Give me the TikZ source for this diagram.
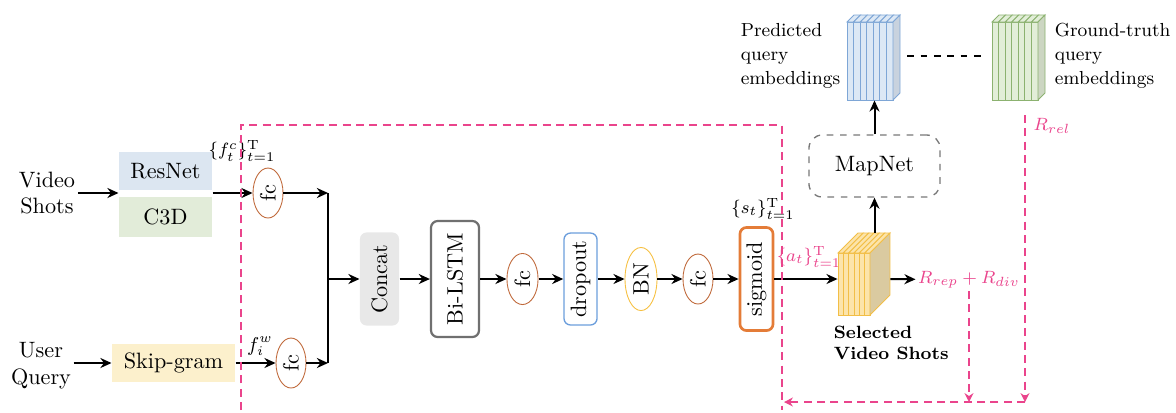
\documentclass[tikz,border=0pt]{standalone}
\usepackage{graphicx}
\usetikzlibrary{arrows.meta,shapes.geometric}

\definecolor{resblue}{RGB}{220,230,241}
\definecolor{c3dgreen}{RGB}{226,236,217}
\definecolor{skipyellow}{RGB}{252,240,204}
\definecolor{catgray}{RGB}{232,232,232}
\definecolor{lstmgray}{RGB}{112,112,112}
\definecolor{dropblue}{RGB}{108,158,220}
\definecolor{bnyellow}{RGB}{246,192,66}
\definecolor{fcbrown}{RGB}{192,106,60}
\definecolor{sigorange}{RGB}{228,124,56}
\definecolor{mapgray}{RGB}{120,120,120}
\definecolor{rwpink}{RGB}{234,68,140}
\definecolor{predfront}{RGB}{220,232,245}
\definecolor{prededge}{RGB}{126,166,214}
\definecolor{predside}{RGB}{200,210,222}
\definecolor{gtfront}{RGB}{226,238,216}
\definecolor{gtedge}{RGB}{140,178,112}
\definecolor{gtside}{RGB}{204,214,194}
\definecolor{selfront}{RGB}{252,228,170}
\definecolor{seledge}{RGB}{242,190,70}
\definecolor{selside}{RGB}{218,202,160}

% stack of slabs: x, y (top of front), n, slab width, height, depth, front, edge, side
\newcommand{\slabstack}[9]{%
  \foreach \i in {1,...,#3}{%
    \pgfmathsetmacro{\xa}{#1+(\i-1)*#4}
    \filldraw[fill=#7, draw=#8, line width=0.4pt] (\xa,#2) rectangle ++(#4,#5);
    \filldraw[fill=#7, draw=#8, line width=0.4pt] (\xa,#2) -- ++(#6,-#6) -- ++(#4,0) -- ++(-#6,#6) -- cycle;
  }
  \pgfmathsetmacro{\xb}{#1+#3*#4}
  \filldraw[fill=#9, draw=#8, line width=0.4pt] (\xb,#2) -- ++(#6,-#6) -- ++(0,#5) -- ++(-#6,#6) -- cycle;
}

\begin{document}
\begin{tikzpicture}[x=0.45pt, y=-0.45pt, >={Stealth[length=5pt,width=4.5pt]}]
    \tikzset{%
      feat/.style={minimum width=41.9pt, minimum height=17.1pt, inner sep=0pt},
      fcell/.style={ellipse, draw=fcbrown, minimum width=13.5pt, minimum height=22.5pt, inner sep=0pt},
      layer/.style={rounded corners=3pt, inner sep=0pt},
      flow/.style={->, line width=0.9pt},
      reward/.style={rwpink, line width=0.6pt, dash pattern=on 3.6pt off 2.4pt, >={Stealth[length=4pt,width=4pt]}},
      rwtext/.style={text=rwpink, inner sep=1pt},
      lbl/.style={font=\fontsize{8.5}{10.8}\selectfont, align=left, anchor=west},
      hidden/.style={inner sep=0pt}
      }
    \useasboundingbox (0,0) rectangle (1176,412);

    \node (vs) [align=center, inner sep=1pt] at (47,193) {Video\\Shots};
    \node (res) [feat, fill=resblue] at (165.5,171) {ResNet};
    \node (c3d) [feat, fill=c3dgreen, minimum height=17.6pt] at (165.5,217) {C3D};
    \node (uq) [align=center, inner sep=1pt] at (41,366) {User\\Query};
    \node (sg) [feat, fill=skipyellow, minimum width=55.4pt] at (173.5,363) {Skip-gram};

    \node (fcv) [fcell] at (268,193) {\rotatebox{90}{fc}};
    \node (fcq) [fcell] at (291,363) {\rotatebox{90}{fc}};
    \node (fclbl) [font=\footnotesize] at (242,151) {$\{f_t^c\}_{t=1}^{\mathrm{T}}$};
    \node (fwlbl) [font=\small] at (260,346) {$f_i^w$};
    \coordinate (jv) at (328,193);
    \coordinate (jq) at (328,363);

    \node (cat) [layer, fill=catgray, minimum width=17.6pt, minimum height=41.9pt] at (379.5,279) {\rotatebox{90}{Concat}};
    \node (lstm) [layer, draw=lstmgray, line width=1pt, minimum width=21.6pt, minimum height=52.2pt] at (455,279) {\rotatebox{90}{Bi-LSTM}};
    \node (fca) [fcell, minimum width=14pt, minimum height=23pt] at (522.5,279) {\rotatebox{90}{fc}};
    \node (drop) [layer, draw=dropblue, line width=0.6pt, minimum width=14.9pt, minimum height=41.4pt] at (580.5,279) {\rotatebox{90}{dropout}};
    \node (bn) [fcell, draw=bnyellow, minimum width=14.4pt, minimum height=28.4pt] at (641,279) {\rotatebox{90}{BN}};
    \node (fcb) [fcell] at (698,279) {\rotatebox{90}{fc}};
    \node (sig) [layer, draw=sigorange, line width=1.2pt, minimum width=14.9pt, minimum height=46.4pt] at (756.5,279) {\rotatebox{90}{sigmoid}};
    \node (slbl) [font=\footnotesize] at (763,209) {$\{s_t\}_{t=1}^{\mathrm{T}}$};
    \node (albl) [rwtext, font=\footnotesize] at (809,257) {$\{a_t\}_{t=1}^{\mathrm{T}}$};

    % selected shots and query embeddings
    \slabstack{838}{253}{6}{5.33}{62}{20}{selfront}{seledge}{selside}
    \node (sel) [hidden, minimum width=23.4pt, minimum height=36.9pt] at (864,274) {};
    \node (sellbl) [lbl, font=\footnotesize\bfseries] at (826,343) {Selected\\Video Shots};
    \node (rr) [rwtext, font=\footnotesize] at (969,280) {$R_{rep}+R_{div}$};
    \node (map) [draw=mapgray, dashed, line width=0.6pt, rounded corners=6pt, minimum width=59pt, minimum height=27.9pt] at (874.5,166) {MapNet};

    \slabstack{847}{22}{7}{6.57}{78}{7}{predfront}{prededge}{predside}
    \slabstack{992}{22}{7}{6.57}{78}{7}{gtfront}{gtedge}{gtside}
    \node (pred) [hidden, minimum width=23.9pt, minimum height=39.6pt] at (873.5,56) {};
    \node (gt) [hidden, minimum width=23.9pt, minimum height=39.6pt] at (1018.5,56) {};
    \node (predlbl) [lbl] at (733,56) {Predicted\\query\\embeddings};
    \node (gtlbl) [lbl] at (1047,56) {Ground-truth\\query\\embeddings};
    \node (rrel) [rwtext, font=\footnotesize] at (1052,126) {$R_{rel}$};

    \draw[flow] (vs.east) -- (vs.east -| res.west);
    \draw[flow] (fcv -| res.east) -- (fcv);
    \draw[flow] (uq.east |- sg) -- (sg);
    \draw[flow] (sg) -- (fcq);
    \draw[flow] (fcv) -- (jv);
    \draw[flow] (fcq) -- (jq);
    \draw[line width=0.9pt] (jv) -- (jq);
    \draw[flow] (jv |- cat) -- (cat);
    \draw[flow] (cat) -- (lstm);
    \draw[flow] (lstm) -- (fca);
    \draw[flow] (fca) -- (drop);
    \draw[flow] (drop) -- (bn);
    \draw[flow] (bn) -- (fcb);
    \draw[flow] (fcb) -- (sig);
    \draw[flow] (sig) -- (sig -| sel.west);
    \draw[flow] (sig -| sel.east) -- (rr);
    \draw[flow] (sel.north -| map) -- (map);
    \draw[flow] (map) -- (map |- pred.south);
    \draw[dashed, line width=0.5pt, shorten <=3pt, shorten >=4pt] (pred.east) -- (gt.west);

    % reward paths
    \coordinate (boxlb) at (241,410);
    \coordinate (boxlt) at (241,125);
    \coordinate (boxrt) at (782,125);
    \coordinate (boxrb) at (782,410);
    \draw[reward] (boxlb) -- (boxlt) -- (boxrt) -- (boxrb);
    \coordinate (relt) at (1025,115);
    \coordinate (relb) at (1025,402);
    \coordinate (back) at (784,402);
    \draw[reward, ->] (relt) -- (relb);
    \draw[reward, ->] (rr.south) -- (rr.south |- relb);
    \draw[reward, ->] (relb) -- (back);
  \end{tikzpicture}
\end{document}
